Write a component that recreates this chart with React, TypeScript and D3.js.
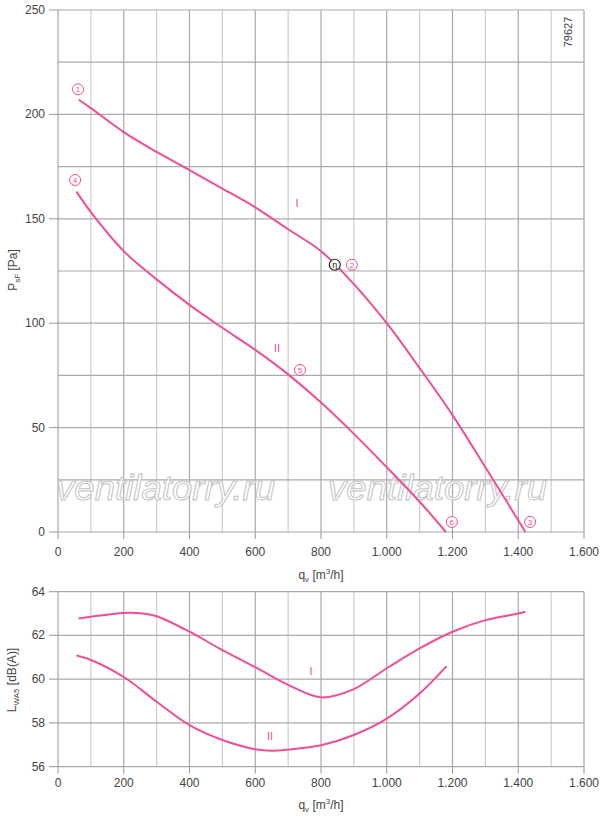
import React from "react";
import * as d3 from "d3";

// pressure curves, q in m3/h, P in Pa
const pressureI: [number, number][] = [
  [63, 207], [100, 203], [200, 191.5], [300, 182], [400, 173.3], [500, 164.5],
  [600, 155.5], [700, 145], [800, 134.5], [900, 118.7], [1000, 100], [1100, 78.5],
  [1200, 56], [1300, 31], [1422, 0],
];
const pressureII: [number, number][] = [
  [56, 163], [100, 153.2], [200, 134.5], [300, 121], [400, 108.8], [500, 97.8],
  [600, 87.2], [700, 75.5], [800, 62], [900, 47], [1000, 31], [1100, 14.5], [1180, 0],
];

// sound power curves, q in m3/h, L in dB(A)
const soundI: [number, number][] = [
  [63, 62.78], [100, 62.86], [200, 63.03], [250, 63.02], [300, 62.88], [400, 62.17],
  [500, 61.33], [600, 60.55], [700, 59.74], [800, 59.17], [900, 59.55],
  [1000, 60.5], [1100, 61.41], [1200, 62.17], [1300, 62.7], [1400, 63.0], [1422, 63.08],
];
const soundII: [number, number][] = [
  [56, 61.08], [100, 60.88], [200, 60.1], [300, 58.97], [400, 57.9], [500, 57.22],
  [600, 56.8], [650, 56.73], [700, 56.78], [800, 56.98], [900, 57.45], [1000, 58.2],
  [1100, 59.35], [1182, 60.6],
];

const xTicks = [0, 200, 400, 600, 800, 1000, 1200, 1400, 1600];
const xGrid = d3.range(0, 1601, 100);
const pTicks = [0, 50, 100, 150, 200, 250];
const pGrid = d3.range(0, 251, 25);
const lTicks = [56, 58, 60, 62, 64];

// circled markers on the pressure chart: [q, P, label]
const markers: [number, number, string][] = [
  [61, 212, "1"], [894, 128, "2"], [1436, 4.8, "3"],
  [52, 168.6, "4"], [736, 77.6, "5"], [1198, 4.8, "6"],
];
const etaPoint: [number, number] = [842, 128];
const curveNamesTop: [number, number, string][] = [[727, 157.6, "I"], [666, 88, "II"]];
const curveNamesBottom: [number, number, string][] = [[770, 60.39, "I"], [645, 57.42, "II"]];

const pink = "#ee4f98";
const font = "'Liberation Sans', Arial, sans-serif";
const fmt = (v: number) => (v >= 1000 ? d3.format(",")(v).replace(",", ".") : String(v));

const x = d3.scaleLinear().domain([0, 1600]).range([58, 584]);
const yP = d3.scaleLinear().domain([0, 250]).range([532, 10]);
const yL = d3.scaleLinear().domain([56, 64]).range([766.7, 591.7]);

const App: React.FC = () => {
  const lineP = d3.line<[number, number]>().x((d) => x(d[0])).y((d) => yP(d[1])).curve(d3.curveCatmullRom.alpha(0.5));
  const lineL = d3.line<[number, number]>().x((d) => x(d[0])).y((d) => yL(d[1])).curve(d3.curveCatmullRom.alpha(0.5));

  const xAxis = (y0: number, labelY: number, titleY: number) => (
    <g>
      {xTicks.map((t) => (
        <g key={t}>
          <line x1={x(t)} x2={x(t)} y1={y0} y2={y0 + 7} stroke="#999" />
          <text x={x(t)} y={labelY} textAnchor="middle" fontSize={12} fill="#444">{fmt(t)}</text>
        </g>
      ))}
      <text x={x(800)} y={titleY} textAnchor="middle" fontSize={12} fill="#444">
        q<tspan fontSize={8} dy={3}>v</tspan>
        <tspan dy={-3}> [m</tspan>
        <tspan fontSize={8} dy={-5}>3</tspan>
        <tspan dy={5}>/h]</tspan>
      </text>
    </g>
  );

  const vGrid = (y1: number, y2: number) =>
    xGrid.map((g) => (
      <line key={g} x1={x(g)} x2={x(g)} y1={y1} y2={y2}
        stroke={g % 200 === 0 ? "#a8a8a8" : "#cdcdcd"} strokeWidth={1.2} />
    ));

  return (
    <div style={{ position: "absolute", left: 0, top: 0 }}>
      <svg width={600} height={818} style={{ fontFamily: font, display: "block" }}>
        <rect width={600} height={818} fill="#fff" />

        {/* pressure chart grid */}
        {vGrid(yP(250), yP(0))}
        {pGrid.map((g) => (
          <line key={g} x1={x(0)} x2={x(1600)} y1={yP(g)} y2={yP(g)} stroke="#aaa" strokeWidth={1.2} />
        ))}
        {pTicks.map((t) => (
          <g key={t}>
            <line x1={49} x2={x(0)} y1={yP(t)} y2={yP(t)} stroke="#999" />
            <text x={45} y={yP(t) + 4} textAnchor="end" fontSize={12} fill="#444">{t}</text>
          </g>
        ))}
        {xAxis(yP(0), 556, 579)}
        <text transform={`translate(17,${270}) rotate(-90)`} textAnchor="middle" fontSize={12} fill="#444">
          P<tspan fontSize={8} dy={3}>sF</tspan>
          <tspan dy={-3}> [Pa]</tspan>
        </text>
        <text transform="translate(572,32) rotate(-90)" textAnchor="middle" fontSize={11} fill="#444">79627</text>

        {/* watermark */}
        {[165.5, 437.5].map((cx) => (
          <text key={cx} x={cx} y={500} textAnchor="middle" fontSize={35} fontStyle="italic"
            textLength={219} lengthAdjust="spacingAndGlyphs"
            fill="rgba(255,255,255,0.85)" stroke="#c4c4c4" strokeWidth={1}>
            ventilatorry.ru
          </text>
        ))}

        <path d={lineP(pressureI) ?? ""} fill="none" stroke={pink} strokeWidth={2} />
        <path d={lineP(pressureII) ?? ""} fill="none" stroke={pink} strokeWidth={2} />

        {markers.map(([q, p, s]) => (
          <g key={s}>
            <circle cx={x(q)} cy={yP(p)} r={5.5} fill="#fff" stroke={pink} strokeWidth={1} />
            <text x={x(q)} y={yP(p) + 3} textAnchor="middle" fontSize={8} fill={pink}>{s}</text>
          </g>
        ))}
        <circle cx={x(etaPoint[0])} cy={yP(etaPoint[1])} r={5.5} fill="#fff" stroke="#222" strokeWidth={1.2} />
        <text x={x(etaPoint[0])} y={yP(etaPoint[1]) + 3} textAnchor="middle" fontSize={9} fill="#222">η</text>
        {curveNamesTop.map(([q, p, s]) => (
          <text key={s} x={x(q)} y={yP(p) + 4} textAnchor="middle" fontSize={11} fill={pink}>{s}</text>
        ))}

        {/* sound chart */}
        {vGrid(yL(64), yL(56))}
        {lTicks.map((t) => (
          <g key={t}>
            <line x1={49} x2={x(1600)} y1={yL(t)} y2={yL(t)} stroke="#aaa" strokeWidth={1.2} />
            <text x={45} y={yL(t) + 4} textAnchor="end" fontSize={12} fill="#444">{t}</text>
          </g>
        ))}
        {xAxis(yL(56), 787, 809)}
        <text transform={`translate(16,${680}) rotate(-90)`} textAnchor="middle" fontSize={12} fill="#444">
          L<tspan fontSize={8} dy={3}>WA5</tspan>
          <tspan dy={-3}> [dB(A)]</tspan>
        </text>

        <path d={lineL(soundI) ?? ""} fill="none" stroke={pink} strokeWidth={2} />
        <path d={lineL(soundII) ?? ""} fill="none" stroke={pink} strokeWidth={2} />
        {curveNamesBottom.map(([q, l, s]) => (
          <text key={s} x={x(q)} y={yL(l) + 4} textAnchor="middle" fontSize={11} fill={pink}>{s}</text>
        ))}
      </svg>
    </div>
  );
};

export default App;
